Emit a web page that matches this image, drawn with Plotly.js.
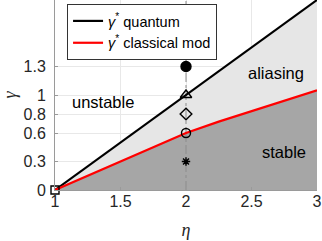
<!DOCTYPE html>
<html>
<head>
<meta charset="utf-8">
<script src="https://cdn.plot.ly/plotly-3.0.1.min.js"></script>
<style>html,body{margin:0;padding:0;background:#fff;}#chart{width:322px;height:241px;}</style>
</head>
<body>
<div id="chart"></div>
<script>
// Data
const quantumEta = [1, 3];
const quantumGamma = [0, 2];
const classicalEta = [1, 1.25, 1.5, 1.75, 2, 2.25, 2.5, 2.75, 3];
const classicalGamma = [0, 0.15, 0.30, 0.45, 0.60, 0.72, 0.83, 0.94, 1.05];
const markerEta = [2, 2, 2, 2, 2];
const markerGamma = [1.3, 1, 0.8, 0.6, 0.3];
const markerSymbols = ['circle', 'triangle-up-open', 'diamond-open', 'circle-open', 'asterisk-open'];
const markerSizes = [10, 10, 9, 9, 7];
const squareEta = [1];
const squareGamma = [0];
const xTicks = [1, 1.5, 2, 2.5, 3];
const xTickText = ['1', '1.5', '2', '2.5', '3'];
const yTicks = [0, 0.3, 0.6, 0.8, 1, 1.3];
const yTickText = ['0', '0.3', '0.6', '0.8', '1', '1.3'];
const regionLabels = ['unstable', 'aliasing', 'stable'];
const regionEta = [1.37, 2.69, 2.75];
const regionGamma = [0.93, 1.23, 0.40];

const traces = [
  {x: quantumEta, y: quantumGamma, mode: 'lines', fill: 'tozeroy', fillcolor: '#e6e6e6',
   line: {width: 0, color: 'rgba(0,0,0,0)'}, showlegend: false, hoverinfo: 'skip'},
  {x: classicalEta, y: classicalGamma, mode: 'lines', fill: 'tozeroy', fillcolor: '#a6a6a6',
   line: {width: 0, color: 'rgba(0,0,0,0)'}, showlegend: false, hoverinfo: 'skip'},
  {x: [2, 2], y: [0, 2], mode: 'lines', line: {color: '#8c8c8c', width: 1, dash: 'dashdot'}, showlegend: false},
  {x: quantumEta, y: quantumGamma, mode: 'lines', line: {color: '#000000', width: 2.2},
   name: '<i>γ</i><sup>*</sup> quantum'},
  {x: classicalEta, y: classicalGamma, mode: 'lines', line: {color: '#ff0000', width: 2.2},
   name: '<i>γ</i><sup>*</sup> classical mod'},
  {x: markerEta, y: markerGamma, mode: 'markers', showlegend: false,
   marker: {symbol: markerSymbols, size: markerSizes, color: '#000000', opacity: 1,
            line: {color: '#000000', width: 1.4}}},
  {x: squareEta, y: squareGamma, mode: 'markers', showlegend: false, cliponaxis: false,
   marker: {symbol: 'square-open', size: 8, color: '#000000', opacity: 1, line: {color: '#000000', width: 1.4}}}
];

const annotations = regionLabels.map((t, i) => ({
  x: regionEta[i], y: regionGamma[i], xref: 'x', yref: 'y', text: t, showarrow: false,
  font: {family: 'Liberation Sans, Arial, sans-serif', size: 16.5, color: '#000000'}
}));

const layout = {
  width: 322, height: 241,
  margin: {l: 55, r: 5, t: 0, b: 51},
  paper_bgcolor: '#ffffff', plot_bgcolor: '#ffffff',
  font: {family: 'Liberation Sans, Arial, sans-serif', size: 16, color: '#262626'},
  xaxis: {
    range: [1, 3], tickvals: xTicks, ticktext: xTickText,
    showgrid: true, gridcolor: '#e8e8e8', zeroline: false,
    showline: true, linecolor: '#9a9a9a', linewidth: 1,
    ticks: 'inside', ticklen: 3, tickcolor: '#9a9a9a', ticklabelstandoff: -3,
    tickfont: {size: 16},
    title: {text: '<i>η</i>', font: {family: 'Liberation Serif, serif', size: 18, color: '#262626'}, standoff: 14}
  },
  yaxis: {
    range: [0, 2], tickvals: yTicks, ticktext: yTickText,
    showgrid: true, gridcolor: '#e8e8e8', zeroline: false,
    showline: true, linecolor: '#9a9a9a', linewidth: 1,
    ticks: 'inside', ticklen: 3, tickcolor: '#9a9a9a', ticklabelstandoff: 5,
    tickfont: {size: 16},
    title: {text: '<i>γ</i>', font: {family: 'Liberation Serif, serif', size: 18, color: '#262626'}, standoff: 5}
  },
  legend: {
    x: 0.046, y: 0.979, xanchor: 'left', yanchor: 'top',
    bgcolor: '#ffffff', bordercolor: '#333333', borderwidth: 1,
    font: {family: 'Liberation Sans, Arial, sans-serif', size: 14.5, color: '#000000'},
    itemwidth: 30, tracegroupgap: 0
  },
  annotations: annotations,
  showlegend: true
};

Plotly.newPlot('chart', traces, layout, {displayModeBar: false, staticPlot: true});
</script>
</body>
</html>
